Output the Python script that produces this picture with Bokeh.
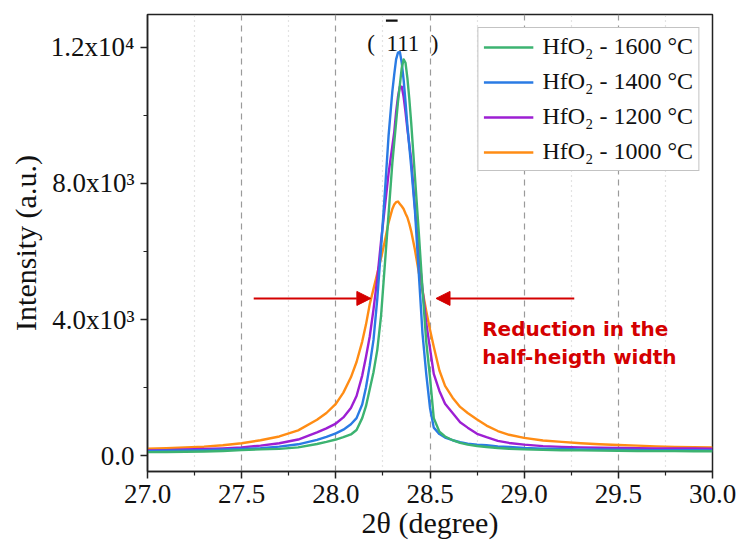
from bokeh.plotting import figure
from bokeh.models import (Range1d, FixedTicker, NumeralTickFormatter, Legend, LegendItem,
                          Label, Arrow, NormalHead, BoxAnnotation)
from bokeh.embed import file_html
from bokeh.resources import INLINE

# 2-theta positions (degrees) of the sampled scan points
two_theta = [27.00, 27.10, 27.20, 27.30, 27.40, 27.50, 27.60, 27.70, 27.80, 27.90, 27.95,
             28.00, 28.04, 28.08, 28.11, 28.14, 28.16, 28.18, 28.20, 28.22, 28.24, 28.26,
             28.28, 28.30, 28.31, 28.32, 28.33, 28.34, 28.35, 28.36, 28.37, 28.38, 28.39,
             28.40, 28.42, 28.44, 28.46, 28.48,
             28.50, 28.52, 28.55, 28.58, 28.62, 28.66, 28.70, 28.75, 28.80, 28.86, 28.92,
             29.00, 29.10, 29.20, 29.30, 29.40, 29.50, 29.60, 29.70, 29.80, 29.90, 30.00]

# Intensity (a.u.) of the (-111) reflection for each annealing temperature
i_1600 = [100, 105, 110, 120, 135, 160, 180, 195, 240, 340, 400,
          470, 540, 620, 750, 1100, 1450, 1950, 2450, 3100, 4100, 5600,
          7100, 8600, 9200, 9800, 10400, 10900, 11400, 11650, 11550, 11100, 10500,
          9800, 8200, 6600, 4900, 3350,
          2300, 1100, 700, 560, 450, 370, 320, 280, 250, 220, 200,
          180, 165, 155, 150, 145, 140, 135, 130, 130, 125, 125]
i_1400 = [130, 140, 150, 160, 175, 195, 215, 260, 330, 460, 550,
          650, 760, 920, 1100, 1500, 2000, 2650, 3400, 4600, 6100, 7700,
          9400, 10700, 11200, 11650, 11850, 11870, 11550, 11050, 10400, 9700, 9100,
          8500, 7200, 5400, 3600, 2400,
          1400, 820, 630, 530, 450, 390, 350, 320, 300, 270, 250,
          220, 200, 190, 180, 175, 170, 165, 160, 160, 155, 150]
i_1200 = [150, 160, 175, 190, 210, 240, 290, 360, 470, 680, 800,
          940, 1120, 1400, 1750, 2350, 2900, 3500, 4300, 5200, 6300, 7300,
          8300, 9100, 9500, 10100, 10550, 10850, 10850, 10550, 10100, 9600, 9150,
          8700, 7300, 6000, 4900, 3900,
          3150, 2400, 1900, 1520, 1250, 980, 820, 640, 540, 430, 370,
          320, 275, 255, 240, 230, 220, 215, 210, 205, 205, 200]
i_1000 = [200, 215, 235, 260, 300, 360, 450, 560, 740, 1050, 1250,
          1520, 1850, 2300, 2750, 3350, 3850, 4450, 4900, 5350, 5800, 6300,
          6850, 7250, 7380, 7450, 7470, 7400, 7330, 7250, 7120, 7000, 6820,
          6600, 6050, 5400, 4850, 4250,
          3700, 3200, 2500, 2050, 1700, 1430, 1250, 1060, 880, 720, 610,
          520, 440, 400, 360, 330, 310, 290, 270, 255, 245, 240]

series_labels = ["HfO\u2082 - 1600 \u00b0C", "HfO\u2082 - 1400 \u00b0C",
                 "HfO\u2082 - 1200 \u00b0C", "HfO\u2082 - 1000 \u00b0C"]
series_colors = ["#3cb371", "#2a7be4", "#9d1fd3", "#ff8c14"]
series_values = [i_1600, i_1400, i_1200, i_1000]

x_ticks = [27.0, 27.5, 28.0, 28.5, 29.0, 29.5, 30.0]
x_minor = [27.25, 27.75, 28.25, 28.75, 29.25, 29.75]
y_ticks = [0, 4000, 8000, 12000]
y_minor = [2000, 6000, 10000]
y_tick_labels = {0: "0.0", 4000: "4.0x10\u00b3", 8000: "8.0x10\u00b3", 12000: "1.2x10\u2074"}

SERIF = "Liberation Serif"
RED = "#d40000"

p = figure(width=738, height=542, output_backend="svg", toolbar_location=None,
           x_range=Range1d(27.0, 30.0), y_range=Range1d(-470, 12970),
           min_border_left=147, min_border_right=26, min_border_top=14, min_border_bottom=71)
p.background_fill_color = "white"
p.border_fill_color = "white"
p.outline_line_color = "#222222"
p.outline_line_width = 1.5

# axes
p.xaxis.ticker = FixedTicker(ticks=x_ticks, minor_ticks=x_minor)
p.xaxis.formatter = NumeralTickFormatter(format="0.0")
p.yaxis.ticker = FixedTicker(ticks=y_ticks, minor_ticks=y_minor)
p.yaxis.major_label_overrides = y_tick_labels
p.xaxis.axis_label = "2\u03b8 (degree)"
p.yaxis.axis_label = "Intensity (a.u.)"
for ax in (p.xaxis, p.yaxis):
    ax.axis_line_color = "#222222"
    ax.axis_line_width = 1.5
    ax.major_tick_line_color = "#222222"
    ax.major_tick_line_width = 1.5
    ax.minor_tick_line_color = "#222222"
    ax.minor_tick_line_width = 1.2
    ax.major_tick_out = 7
    ax.major_tick_in = 0
    ax.minor_tick_out = 4
    ax.minor_tick_in = 0
    ax.major_label_text_font = SERIF
    ax.major_label_text_font_size = "27px"
    ax.major_label_text_color = "#111111"
    ax.axis_label_text_font = SERIF
    ax.axis_label_text_font_size = "30px"
    ax.axis_label_text_font_style = "normal"
    ax.axis_label_text_color = "#111111"
p.xaxis.major_label_standoff = 6
p.yaxis.major_label_standoff = 6
p.xaxis.axis_label_standoff = 0
p.yaxis.axis_label_standoff = 6

# vertical grid only: dashed at majors, dotted at minors
p.xgrid.ticker = FixedTicker(ticks=x_ticks, minor_ticks=x_minor)
p.xgrid.grid_line_color = "#9a9a9a"
p.xgrid.grid_line_dash = "6 5"
p.xgrid.grid_line_width = 1.2
p.xgrid.minor_grid_line_color = "#c8c8c8"
p.xgrid.minor_grid_line_dash = "1 4"
p.xgrid.minor_grid_line_width = 1.2
p.ygrid.visible = False

# diffraction curves
renderers = []
for vals, col in zip(reversed(series_values), reversed(series_colors)):
    renderers.append(p.line(two_theta, vals, line_color=col, line_width=2.4,
                            line_join="round"))
renderers = list(reversed(renderers))

legend = Legend(items=[LegendItem(label=lab, renderers=[r])
                       for lab, r in zip(series_labels, renderers)])
legend.location = "top_right"
legend.margin = 13
legend.padding = 5
legend.spacing = 8
legend.glyph_width = 50
legend.glyph_height = 24
legend.label_height = 24
legend.label_standoff = 9
legend.label_text_font = SERIF
legend.label_text_font_size = "24px"
legend.label_text_color = "#111111"
legend.border_line_color = "#888888"
legend.border_line_width = 1.2
legend.background_fill_alpha = 1.0
p.add_layout(legend)

# Miller index of the reflection, (-1 1 1) with a bar over the first index
p.add_layout(Label(x=28.356, y=12118, text="(\u2002111\u2002)", text_font=SERIF,
                   text_font_size="23px", text_color="#111111",
                   text_align="center", text_baseline="alphabetic"))
p.add_layout(BoxAnnotation(left=28.266, right=28.328, bottom=12760, top=12820,
                           fill_color="#111111", fill_alpha=1.0, line_alpha=0))

# arrows pointing at the peak width
for xs, xe in ((27.564, 28.186), (29.266, 28.532)):
    p.add_layout(Arrow(end=NormalHead(size=14, fill_color=RED, line_color=RED),
                       x_start=xs, y_start=4620, x_end=xe, y_end=4620,
                       line_color=RED, line_width=2))

for txt, yv in (("Reduction in the", 3735), ("half-heigth width", 2910)):
    p.add_layout(Label(x=28.777, y=yv, text=txt, text_font="DejaVu Sans",
                       text_font_style="bold", text_font_size="20px", text_color=RED,
                       text_align="left", text_baseline="middle"))

open("out.html", "w").write(file_html(p, INLINE))
